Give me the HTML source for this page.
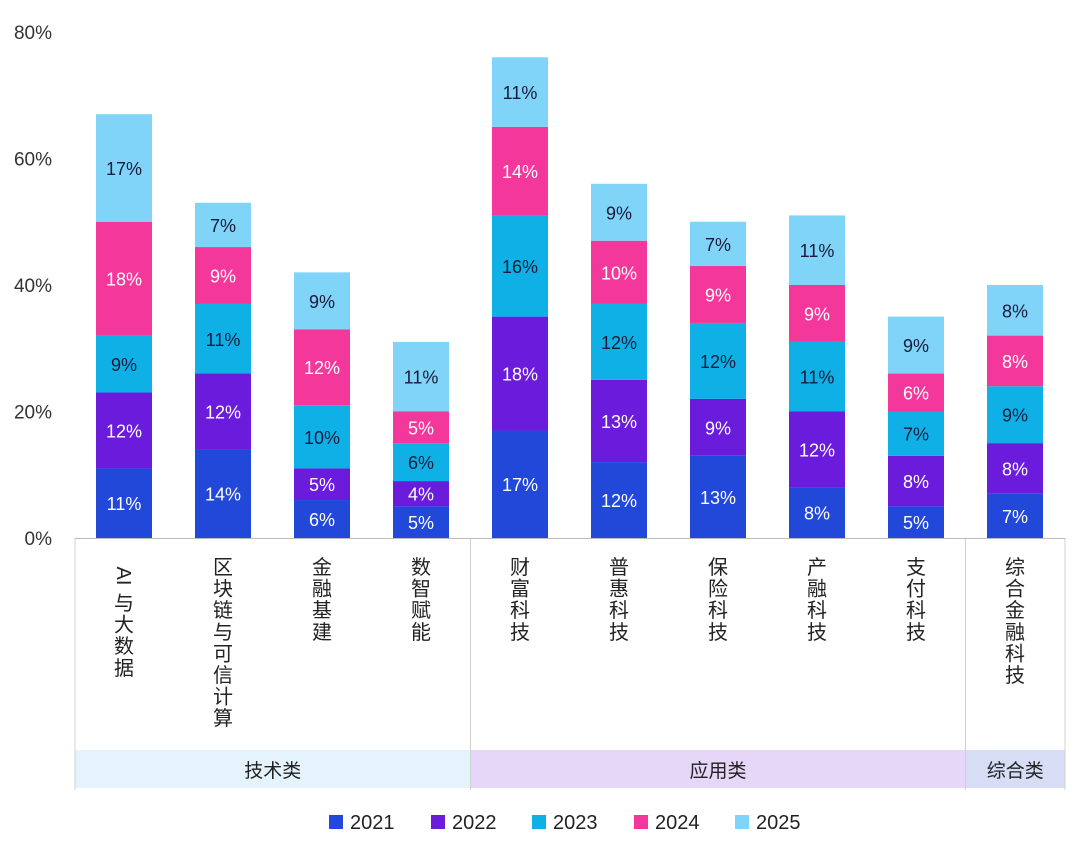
<!DOCTYPE html>
<html><head><meta charset="utf-8">
<style>
body{margin:0;background:#fff;width:1080px;height:857px;overflow:hidden;font-family:"Liberation Sans","Noto Sans CJK SC",sans-serif;}
</style></head>
<body>
<svg id="chart" width="1080" height="857" xmlns="http://www.w3.org/2000/svg" font-family="Liberation Sans, Noto Sans CJK SC, sans-serif"></svg>
<script>
const categories=["AI与大数据","区块链与可信计算","金融基建","数智赋能","财富科技","普惠科技","保险科技","产融科技","支付科技","综合金融科技"];
const years=["2021","2022","2023","2024","2025"];
const v2021=[11,14,6,5,17,12,13,8,5,7];
const v2022=[12,12,5,4,18,13,9,12,8,8];
const v2023=[9,11,10,6,16,12,12,11,7,9];
const v2024=[18,9,12,5,14,10,9,9,6,8];
const v2025=[17,7,9,11,11,9,7,11,9,8];
const yTicks=[0,20,40,60,80];
const groups=[{name:"技术类",from:0,to:3},{name:"应用类",from:4,to:8},{name:"综合类",from:9,to:9}];

const series=[v2021,v2022,v2023,v2024,v2025];
const colors=["#2148d9","#6b1bdc","#0fb0e6","#f4389b","#7fd4f8"];
const textColors=["#fff","#fff","#1a1a3a","#fff","#1a1a3a"];
const svg=document.getElementById('chart');
const NS="http://www.w3.org/2000/svg";
const x0=75,x1=1065,y0=538,yTop=32;
const y=v=>y0-(v/80)*(y0-yTop);
const step=99,bw=56;
const cx=i=>124+i*step;
function el(t,a,txt){const e=document.createElementNS(NS,t);for(const k in a)e.setAttribute(k,a[k]);if(txt!=null)e.textContent=txt;svg.appendChild(e);return e;}

yTicks.forEach(t=>{
  const e=el('text',{x:52,y:y(t)+7,'text-anchor':'end','font-size':19,fill:'#333'},t+'%');
  
  
});
groups.forEach(g=>{
  const gx0=g.from===0?x0:cx(g.from)-step/2, gx1=g.to===categories.length-1?x1:cx(g.to)+step/2;
  const fills={"技术类":"#e4f3fc","应用类":"#e6d6f8","综合类":"#d6ddf5"};
  const r=el('rect',{x:gx0,y:750,width:gx1-gx0,height:38,fill:fills[g.name]});
  
  
  const t=el('text',{x:(gx0+gx1)/2,y:777,'text-anchor':'middle','font-size':19,fill:'#222'},g.name);
  
  
  [gx0,gx1].forEach(xx=>{const l=el('line',{x1:xx,y1:y0,x2:xx,y2:790,stroke:'#d0d0d0','stroke-width':1});
  
  });
});
const ax=el('line',{x1:x0,y1:y0+0.5,x2:x1,y2:y0+0.5,stroke:'#bbb','stroke-width':1});



categories.forEach((c,i)=>{
  let acc=0;
  series.forEach((s,k)=>{
    const v=s[i];
    const r=el('rect',{x:cx(i)-bw/2,y:y(acc+v),width:bw,height:y(acc)-y(acc+v),fill:colors[k]});
    
    
    const t=el('text',{x:cx(i),y:(y(acc)+y(acc+v))/2+7,'text-anchor':'middle','font-size':18,fill:textColors[k]},v+'%');
    
    
    acc+=v;
  });
  let yy=574;
  let rest=c;
  if(c.startsWith('AI')){
    const t=el('text',{x:0,y:0,'text-anchor':'middle','font-size':20,fill:'#222',transform:`translate(${cx(i)-7},576) rotate(90)`},'AI');
    
    
    rest=c.slice(2); yy=610;
  }
  [...rest].forEach((ch,j)=>{
    const t=el('text',{x:cx(i),y:yy+j*21.6,'text-anchor':'middle','font-size':20,fill:'#222'},ch);
    
    
  });
});
const lx=[329,431,532,634,735];
years.forEach((yr,k)=>{
  const r=el('rect',{x:lx[k],y:815,width:14,height:14,fill:colors[k]});
  
  
  const t=el('text',{x:lx[k]+21,y:829,'font-size':20,fill:'#222'},yr);
  
  
});
</script>
</body></html>
